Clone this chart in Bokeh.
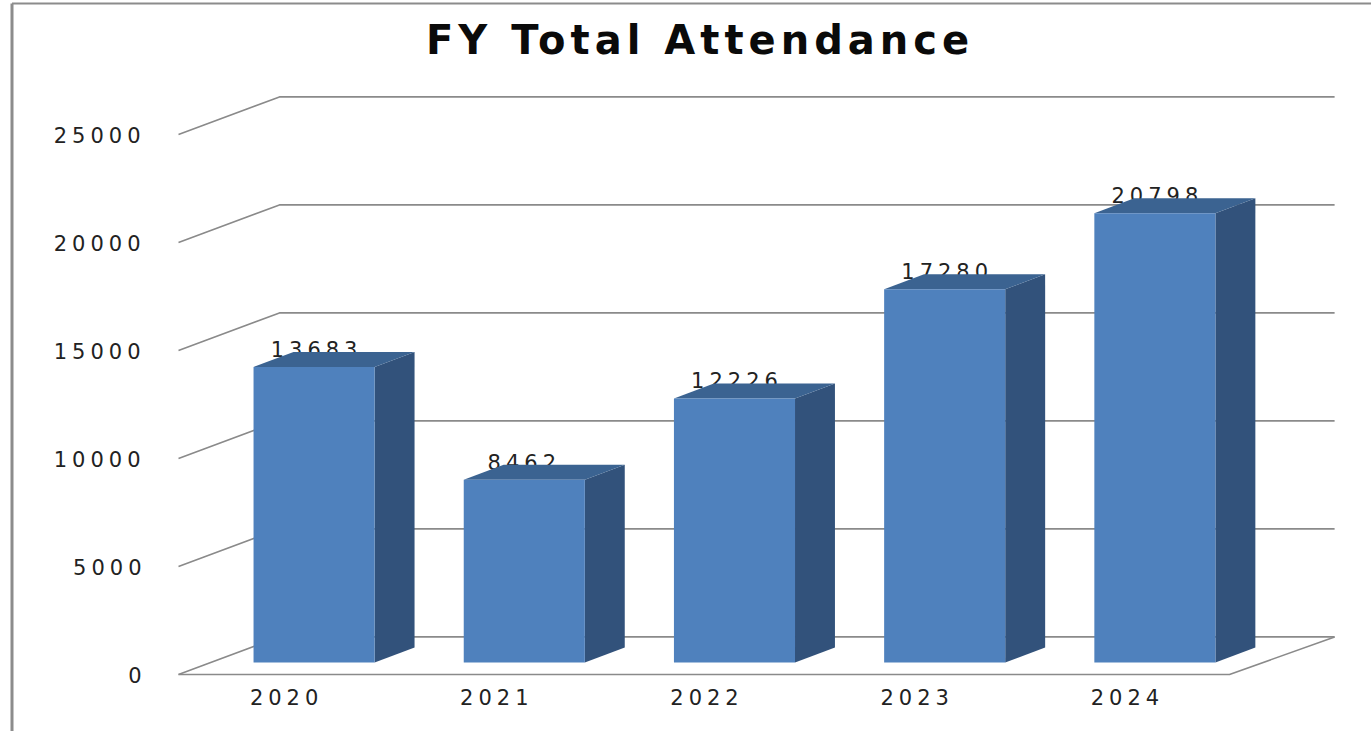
from bokeh.plotting import figure
from bokeh.embed import file_html
from bokeh.resources import INLINE
from bokeh.models import FixedTicker, ColumnDataSource, LinearAxis, Range1d
from bokeh.core.properties import value

categories = ["2020", "2021", "2022", "2023", "2024"]
attendance = [13683, 8462, 12226, 17280, 20798]
y_ticks = [0, 5000, 10000, 15000, 20000, 25000]
title_text = "FY Total Attendance"

FRONT = "#4F81BD"
SIDE = "#32527B"
TOP = "#3B6391"
GRID = "#8A8A8A"
INK = "#222222"
EDGE = "#8C8C8C"
FONT = "DejaVu Sans"

# page geometry
W, H = 1371, 731
PX_X, PX_Y = 210.2, 0.0216        # pixels per category, pixels per attendance unit
ZERO_X, ZERO_Y = 178, 674          # page position of the floor's front left corner

x_start = -0.5 - ZERO_X / PX_X
x_end = x_start + W / PX_X
y_start = -(H - ZERO_Y) / PX_Y
y_end = y_start + H / PX_Y

# depth of the fake 3D, in data units
WALL_DX, WALL_DY = 0.48, 1740
BAR_DX, BAR_DY = 0.19, 695
BAR_LIFT = 555
BAR_L, BAR_R = -0.143, 0.433

p = figure(width=W, height=H, output_backend="svg", toolbar_location=None,
           x_range=(x_start, x_end), y_range=(y_start, y_end),
           x_axis_type=None, y_axis_type=None,
           min_border=0, outline_line_color=None,
           background_fill_color="white", border_fill_color="white")
p.grid.visible = False
p.styles = {"letter-spacing": "5px"}

# the tracking pushes centred labels to the right; this range pulls the year labels back
p.extra_x_ranges = {"labels": Range1d(x_start + 7 / PX_X, x_end + 7 / PX_X)}


def style_axis(ax, standoff):
    ax.axis_line_color = None
    ax.major_tick_line_color = None
    ax.minor_tick_line_color = None
    ax.major_label_text_font = FONT
    ax.major_label_text_font_size = "21px"
    ax.major_label_text_color = INK
    ax.major_label_standoff = standoff


# the tracking also widens right-aligned labels by their length, so each length gets its standoff
standoffs = {1: 31, 4: 46, 5: 52}
for digits, standoff in standoffs.items():
    ticks = [t for t in y_ticks if len(str(t)) == digits]
    yaxis = LinearAxis(fixed_location=-0.5, ticker=FixedTicker(ticks=ticks))
    style_axis(yaxis, standoff)
    p.add_layout(yaxis, "left")

xaxis = LinearAxis(fixed_location=0, x_range_name="labels",
                   ticker=FixedTicker(ticks=list(range(len(categories)))),
                   major_label_overrides={i: c for i, c in enumerate(categories)})
style_axis(xaxis, 8)
p.add_layout(xaxis, "below")

# walls and floor
x_left, x_right, x_front_right = -0.5, 5.0, 4.5
p.multi_line(xs=[[x_left, x_left + WALL_DX, x_right] for _ in y_ticks],
             ys=[[v, v + WALL_DY, v + WALL_DY] for v in y_ticks],
             line_color=GRID, line_width=1.6)
p.line([x_left, x_front_right, x_right], [0, 0, WALL_DY], line_color=GRID, line_width=1.6)

# data labels sit behind the bars
centers = [i + (BAR_L + BAR_R) / 2 for i in range(len(attendance))]
src = ColumnDataSource(dict(x=centers, y=[v + BAR_LIFT for v in attendance],
                            t=[str(v) for v in attendance]))
p.text("x", "y", text="t", source=src, text_align="center", text_baseline="alphabetic",
       x_offset=-10, y_offset=-18, text_font=value(FONT), text_font_size=value("21px"), text_color=INK)

# bars
for i, v in enumerate(attendance):
    l, r = i + BAR_L, i + BAR_R
    b, t = BAR_LIFT, v + BAR_LIFT
    p.patch([r, r + BAR_DX, r + BAR_DX, r], [b, b + BAR_DY, t + BAR_DY, t], color=SIDE, line_width=0)
    p.patch([l, l + BAR_DX, r + BAR_DX, r], [t, t + BAR_DY, t + BAR_DY, t], color=TOP, line_width=0)
    p.quad(left=l, right=r, bottom=b, top=t, color=FRONT, line_width=0)

# title, placed over the chart's width through the data scale
p.text([1.755], [y_end - 39 / PX_Y], text=[title_text], text_align="center", text_baseline="middle",
       text_font=value(FONT), text_font_style="bold", text_font_size=value("40px"), text_color="#0a0a0a")

# picture border near the page's left and top edges
border_x = x_start + 11.5 / PX_X
border_y = y_end - 3 / PX_Y
p.segment([border_x, border_x], [y_start, border_y], [border_x, x_end], [border_y, border_y],
          line_color=EDGE, line_width=[3, 2])

open("out.html", "w").write(file_html(p, INLINE))
